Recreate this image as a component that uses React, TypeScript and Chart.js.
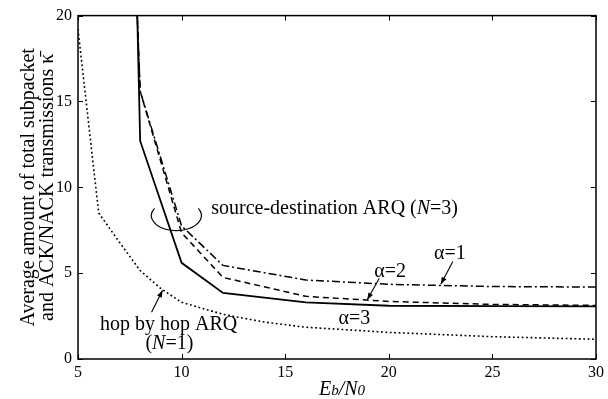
import React, { useEffect, useRef } from "react";
import { Chart, registerables } from "chart.js";

Chart.register(...registerables);

// ---- data ----
const sdX = [7, 8, 10, 12, 16, 20, 25, 30];
const alpha3 = [65, 12.7, 5.6, 3.85, 3.3, 3.1, 3.08, 3.07];
const alpha2 = [47, 15.6, 7.35, 4.75, 3.65, 3.35, 3.18, 3.12];
const alpha1 = [47, 15.6, 7.75, 5.45, 4.6, 4.35, 4.22, 4.19];
const hopX = [5, 6, 7, 8, 9, 10, 12, 14, 16, 20, 25, 30];
const hopByHop = [19.2, 8.5, 6.8, 5.15, 4.1, 3.3, 2.6, 2.15, 1.85, 1.55, 1.3, 1.15];
const xTickValues = [5, 10, 15, 20, 25, 30];
const yTickValues = [0, 5, 10, 15, 20];
const yTitle = ["Average amount of total subpacket", "and ACK/NACK transmissions \u03BA\u0304"];

const FONT = "'Liberation Serif', 'Times New Roman', serif";

const toPoints = (xs: number[], ys: number[]) => xs.map((x, i) => ({ x, y: ys[i] }));

function drawArrow(ctx: CanvasRenderingContext2D, x1: number, y1: number, x2: number, y2: number) {
  ctx.beginPath();
  ctx.moveTo(x1, y1);
  ctx.lineTo(x2, y2);
  ctx.stroke();
  const ang = Math.atan2(y2 - y1, x2 - x1);
  const len = 7;
  const w = 2.6;
  const bx = x2 - len * Math.cos(ang);
  const by = y2 - len * Math.sin(ang);
  ctx.beginPath();
  ctx.moveTo(x2, y2);
  ctx.lineTo(bx + w * Math.sin(ang), by - w * Math.cos(ang));
  ctx.lineTo(bx - w * Math.sin(ang), by + w * Math.cos(ang));
  ctx.closePath();
  ctx.fill();
}

function drawPieces(
  ctx: CanvasRenderingContext2D,
  pieces: [string, string][],
  x: number,
  y: number,
  align: "left" | "center" = "left"
) {
  let total = 0;
  for (const [t, f] of pieces) {
    ctx.font = f;
    total += ctx.measureText(t).width;
  }
  let cx = align === "center" ? x - total / 2 : x;
  ctx.textAlign = "left";
  ctx.textBaseline = "alphabetic";
  for (const [t, f] of pieces) {
    ctx.font = f;
    ctx.fillText(t, cx, y);
    cx += ctx.measureText(t).width;
  }
}

const overlayPlugin = {
  id: "overlay",
  afterDraw(chart: any) {
    const { ctx, chartArea } = chart;
    const xs = chart.scales.x;
    const ys = chart.scales.y;
    const px = (v: number) => xs.getPixelForValue(v);
    const py = (v: number) => ys.getPixelForValue(v);
    ctx.save();
    ctx.strokeStyle = "#000";
    ctx.fillStyle = "#000";
    ctx.setLineDash([]);
    // frame
    ctx.lineWidth = 1.5;
    ctx.strokeRect(chartArea.left, chartArea.top, chartArea.right - chartArea.left, chartArea.bottom - chartArea.top);
    // inward ticks
    ctx.lineWidth = 1;
    const tl = 5;
    ctx.beginPath();
    for (const v of xTickValues) {
      const p = Math.round(px(v)) + 0.5;
      ctx.moveTo(p, chartArea.bottom);
      ctx.lineTo(p, chartArea.bottom - tl);
      ctx.moveTo(p, chartArea.top);
      ctx.lineTo(p, chartArea.top + tl);
    }
    for (const v of yTickValues) {
      const p = Math.round(py(v)) + 0.5;
      ctx.moveTo(chartArea.left, p);
      ctx.lineTo(chartArea.left + tl, p);
      ctx.moveTo(chartArea.right, p);
      ctx.lineTo(chartArea.right - tl, p);
    }
    ctx.stroke();

    const normal = `20px ${FONT}`;
    const italic = `italic 20px ${FONT}`;
    const italicSmall = `italic 15px ${FONT}`;

    // x-axis title Eb/N0
    drawPieces(
      ctx,
      [
        ["E", italic],
        ["b", italicSmall],
        ["/", italic],
        ["N", italic],
        ["0", italicSmall],
      ],
      (chartArea.left + chartArea.right) / 2 + 5,
      395,
      "center"
    );

    // ellipse
    ctx.lineWidth = 1.2;
    ctx.beginPath();
    ctx.ellipse(px(9.75), py(8.35), 25, 15, 0, -0.5, Math.PI + 0.5);
    ctx.stroke();

    // texts
    drawPieces(
      ctx,
      [
        ["source-destination ARQ (", normal],
        ["N", italic],
        ["=3)", normal],
      ],
      px(11.43),
      py(8.46)
    );
    drawPieces(ctx, [["hop by hop ARQ", normal]], px(6.06), py(1.68));
    drawPieces(
      ctx,
      [
        ["(", normal],
        ["N", italic],
        ["=1)", normal],
      ],
      px(9.41),
      py(0.58),
      "center"
    );
    drawPieces(ctx, [["\u03B1=1", normal]], px(22.18), py(5.8));
    drawPieces(ctx, [["\u03B1=2", normal]], px(19.3), py(4.75));
    drawPieces(ctx, [["\u03B1=3", normal]], px(17.57), py(2.03));

    // arrows
    ctx.lineWidth = 1.1;
    drawArrow(ctx, px(23.09), py(5.68), px(22.51), py(4.36));
    drawArrow(ctx, px(19.54), py(4.7), px(18.96), py(3.45));
    drawArrow(ctx, px(8.55), py(2.72), px(9.08), py(4.0));
    ctx.restore();
  },
};

export default function App() {
  const ref = useRef<HTMLCanvasElement | null>(null);
  useEffect(() => {
    if (!ref.current) return;
    const tickFont = { family: FONT, size: 16 };
    const chart = new Chart(ref.current, {
      type: "line",
      data: {
        datasets: [
          {
            label: "hop by hop ARQ (N=1)",
            data: toPoints(hopX, hopByHop),
            borderColor: "#000",
            borderWidth: 1.6,
            borderDash: [1.8, 2.6],
            pointRadius: 0,
            tension: 0,
            fill: false,
          },
          {
            label: "alpha=3",
            data: toPoints(sdX, alpha3),
            borderColor: "#000",
            borderWidth: 1.8,
            pointRadius: 0,
            tension: 0,
            fill: false,
          },
          {
            label: "alpha=2",
            data: toPoints(sdX, alpha2),
            borderColor: "#000",
            borderWidth: 1.5,
            borderDash: [6, 4],
            pointRadius: 0,
            tension: 0,
            fill: false,
          },
          {
            label: "alpha=1",
            data: toPoints(sdX, alpha1),
            borderColor: "#000",
            borderWidth: 1.5,
            borderDash: [8, 3, 2, 3],
            pointRadius: 0,
            tension: 0,
            fill: false,
          },
        ],
      },
      options: {
        responsive: false,
        animation: false,
        devicePixelRatio: 1,
        layout: { padding: { top: 14, right: 9, left: 0, bottom: 0 } },
        plugins: { legend: { display: false }, tooltip: { enabled: false } },
        scales: {
          x: {
            type: "linear",
            min: 5,
            max: 30,
            afterBuildTicks: (s: any) => {
              s.ticks = xTickValues.map((v) => ({ value: v }));
            },
            afterFit: (s: any) => {
              s.height = 40;
            },
            grid: { display: false, drawTicks: false },
            border: { display: false },
            ticks: { font: tickFont, color: "#000", padding: 4, maxRotation: 0, autoSkip: false },
          },
          y: {
            type: "linear",
            min: 0,
            max: 20,
            afterBuildTicks: (s: any) => {
              s.ticks = yTickValues.map((v) => ({ value: v }));
            },
            afterFit: (s: any) => {
              s.width = 78;
            },
            grid: { display: false, drawTicks: false },
            border: { display: false },
            ticks: { font: tickFont, color: "#000", padding: 6, autoSkip: false },
            title: {
              display: true,
              text: yTitle,
              color: "#000",
              font: { family: FONT, size: 20, lineHeight: 0.95 },
              padding: { top: 19, bottom: 0 },
            },
          },
        },
      },
      plugins: [overlayPlugin],
    });
    return () => chart.destroy();
  }, []);
  return (
    <div style={{ position: "absolute", left: 0, top: 0, width: 608, height: 399, background: "#fff" }}>
      <canvas ref={ref} width={608} height={399} />
    </div>
  );
}
